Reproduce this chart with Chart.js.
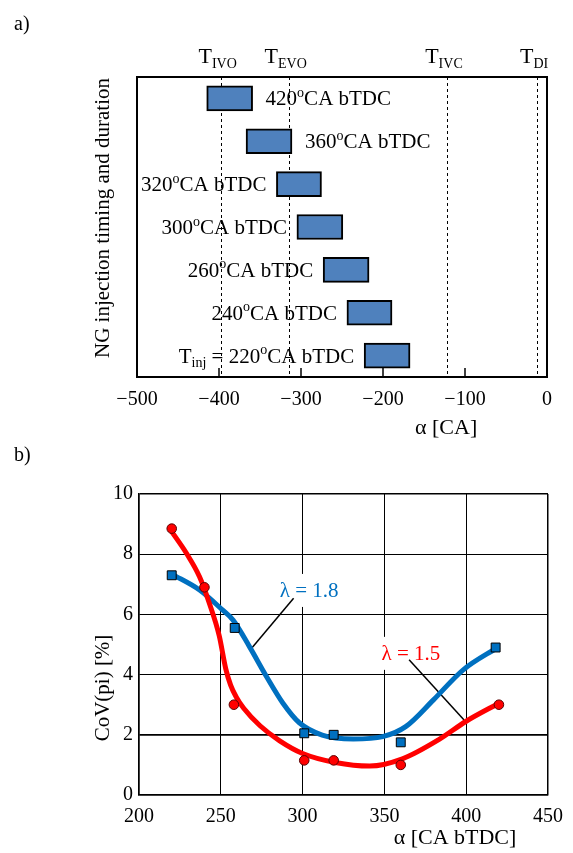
<!DOCTYPE html>
<html>
<head>
<meta charset="utf-8">
<script src="https://cdn.jsdelivr.net/npm/chart.js@4.4.1/dist/chart.umd.min.js"></script>
<style>
  html, body { margin: 0; padding: 0; background: #fff; }
  #wrapA { position: absolute; left: 0; top: 0; width: 573px; height: 440px; }
  #wrapB { position: absolute; left: 0; top: 440px; width: 573px; height: 413px; }
</style>
</head>
<body>
<div id="wrapA"><canvas id="timingChart"></canvas></div>
<div id="wrapB"><canvas id="covChart"></canvas></div>
<script>
const serif = '"Liberation Serif", "Times New Roman", serif';

/* a) injection timing and duration */
const injTiming = [420, 360, 320, 300, 260, 240, 220];          // CA bTDC
const injStart = [-415, -367, -330, -305, -273, -244, -223];     // CA
const injEnd = [-359, -311, -275, -249, -217, -189, -167];       // CA
const valveEvents = ["IVO", "EVO", "IVC", "DI"];
const valveAngles = [-398, -315, -122, -12];
const ticksA = [-500, -400, -300, -200, -100, 0];

/* b) CoV(pi) vs injection timing (marker positions as plotted) */
const anglesRich = [220, 240, 258, 301, 319, 360, 420];
const covRich = [8.85, 6.9, 3.0, 1.15, 1.15, 1.0, 3.0];
const anglesLean = [220, 258.5, 301, 319, 360, 418];
const covLean = [7.3, 5.55, 2.05, 2.0, 1.75, 4.9];
// fitted curves
const fitRichX = [220, 229, 237, 243, 249, 253, 256, 259.5, 264, 274, 286, 300, 320, 341, 361, 383, 400, 420];
const fitRichY = [8.75, 8.03, 7.25, 6.37, 5.3, 4.2, 3.65, 3.25, 2.88, 2.3, 1.8, 1.38, 1.08, 0.96, 1.2, 1.83, 2.45, 3.05];
const fitLeanX = [220, 237, 251, 257.5, 267.5, 278, 288, 298, 312, 331, 349, 363, 380, 398, 420];
const fitLeanY = [7.34, 6.81, 6.15, 5.81, 4.93, 3.93, 3.05, 2.4, 1.99, 1.86, 1.94, 2.27, 3.16, 4.15, 4.93];
const lambdaRich = "1.5";
const lambdaLean = "1.8";

const red = "#ff0000";
const blue = "#0070c0";

// text with sub/superscripts: parts = [[text, ""|"sub"|"sup"], ...]
function drawRich(ctx, parts, x, y, align, size, color) {
  const small = Math.round(size * 0.65);
  let w = 0;
  parts.forEach(([t, k]) => {
    ctx.font = (k ? small : size) + "px " + serif;
    w += ctx.measureText(t).width;
  });
  let cx = align === "center" ? x - w / 2 : align === "right" ? x - w : x;
  ctx.textAlign = "left";
  ctx.textBaseline = "alphabetic";
  ctx.fillStyle = color || "#000";
  parts.forEach(([t, k]) => {
    ctx.font = (k ? small : size) + "px " + serif;
    const dy = k === "sub" ? size * 0.22 : k === "sup" ? -size * 0.4 : 0;
    ctx.fillText(t, cx, y + dy);
    cx += ctx.measureText(t).width;
  });
  return w;
}

const timingDecor = {
  id: "timingDecor",
  beforeDatasetsDraw(chart) {
    const { ctx, chartArea: a, scales: { x } } = chart;
    ctx.save();
    ctx.strokeStyle = "#000";
    ctx.lineWidth = 1;
    ctx.setLineDash([3, 3]);
    valveAngles.forEach(v => {
      const px = Math.round(x.getPixelForValue(v)) + 0.5;
      ctx.beginPath();
      ctx.moveTo(px, a.top);
      ctx.lineTo(px, a.bottom);
      ctx.stroke();
    });
    ctx.restore();
  },
  afterDraw(chart) {
    const { ctx, chartArea: a, scales: { x, y } } = chart;
    ctx.save();
    // frame
    ctx.strokeStyle = "#000";
    ctx.lineWidth = 2;
    ctx.strokeRect(a.left, a.top, a.right - a.left, a.bottom - a.top);
    // inward tick marks
    ctx.lineWidth = 1.5;
    ticksA.forEach(v => {
      const px = x.getPixelForValue(v);
      ctx.beginPath();
      ctx.moveTo(px, a.bottom);
      ctx.lineTo(px, a.bottom - 9);
      ctx.stroke();
    });
    // valve event labels
    valveEvents.forEach((name, i) => {
      drawRich(ctx, [["T", ""], [name, "sub"]], x.getPixelForValue(valveAngles[i]) - 3, 63, "center", 22);
    });
    // bar labels
    injTiming.forEach((t, i) => {
      const py = y.getPixelForValue(i) + 7;
      const parts = [[String(t), ""], ["o", "sup"], ["CA bTDC", ""]];
      if (i === injTiming.length - 1) parts.unshift(["T", ""], ["inj", "sub"], [" = ", ""]);
      if (i < 2) drawRich(ctx, parts, x.getPixelForValue(injEnd[i]) + 13, py, "left", 21);
      else drawRich(ctx, parts, x.getPixelForValue(injStart[i]) - 10, py, "right", 21);
    });
    // axis titles
    drawRich(ctx, [["\u03b1 [CA]", ""]], a.left + (a.right - a.left) * 0.754, 434, "center", 22);
    ctx.translate(103, 218);
    ctx.rotate(-Math.PI / 2);
    ctx.font = "21px " + serif;
    ctx.textAlign = "center";
    ctx.textBaseline = "middle";
    ctx.fillText("NG injection timing and duration", 0, 0);
    ctx.restore();
    ctx.save();
    drawRich(ctx, [["a)", ""]], 14, 30, "left", 20);
    ctx.restore();
  }
};

new Chart(document.getElementById("timingChart"), {
  type: "bar",
  data: {
    labels: injTiming.map(String),
    datasets: [{
      data: injStart.map((s, i) => [s, injEnd[i]]),
      backgroundColor: "#4f81bd",
      borderColor: "#000",
      borderWidth: 2,
      borderSkipped: false,
      barThickness: 25
    }]
  },
  options: {
    indexAxis: "y",
    responsive: true,
    maintainAspectRatio: false,
    animation: false,
    layout: { padding: { top: 77, right: 26, left: 0, bottom: 0 } },
    plugins: { legend: { display: false }, tooltip: { enabled: false } },
    scales: {
      x: {
        min: -500,
        max: 0,
        afterBuildTicks: s => { s.ticks = ticksA.map(v => ({ value: v })); },
        grid: { display: false, drawTicks: false },
        border: { display: false },
        ticks: {
          padding: 11,
          color: "#000",
          font: { family: serif, size: 20 },
          callback: v => (v < 0 ? "\u2212" + (-v) : String(v))
        },
        afterFit: s => { s.height = 63; }
      },
      y: {
        grid: { display: false, drawTicks: false },
        border: { display: false },
        ticks: { display: false },
        afterFit: s => { s.width = 137; }
      }
    }
  },
  plugins: [timingDecor]
});

const covDecor = {
  id: "covDecor",
  beforeDatasetsDraw(chart) {
    const { ctx, scales: { x, y } } = chart;
    ctx.save();
    const notes = [
      { text: lambdaLean, color: blue, at: [304, 6.58], from: [294.5, 6.54], to: [268.7, 4.87] },
      { text: lambdaRich, color: red, at: [366.2, 4.49], from: [365.1, 4.49], to: [398.7, 2.49] }
    ];
    notes.forEach(n => {
      const px = x.getPixelForValue(n.at[0]);
      const py = y.getPixelForValue(n.at[1]);
      ctx.font = "21px " + serif;
      const w = ctx.measureText("\u03bb = " + n.text).width;
      ctx.fillStyle = "#fff";
      ctx.fillRect(px - w / 2 - 4, py - 23, w + 8, 33);
      ctx.strokeStyle = "#000";
      ctx.lineWidth = 1.5;
      ctx.beginPath();
      ctx.moveTo(x.getPixelForValue(n.from[0]), y.getPixelForValue(n.from[1]));
      ctx.lineTo(x.getPixelForValue(n.to[0]), y.getPixelForValue(n.to[1]));
      ctx.stroke();
      drawRich(ctx, [["\u03bb = " + n.text, ""]], px, py, "center", 21, n.color);
    });
    ctx.restore();
  },
  afterDraw(chart) {
    const { ctx } = chart;
    ctx.save();
    drawRich(ctx, [["\u03b1 [CA bTDC]", ""]], 455, 404, "center", 22);
    drawRich(ctx, [["b)", ""]], 14, 21, "left", 20);
    ctx.translate(103, 248);
    ctx.rotate(-Math.PI / 2);
    ctx.font = "21px " + serif;
    ctx.textAlign = "center";
    ctx.textBaseline = "middle";
    ctx.fillStyle = "#000";
    ctx.fillText("CoV(pi) [%]", 0, 0);
    ctx.restore();
  }
};

const edgeWidth = (c, lo, hi) => {
  const v = c.tick.value;
  if (v === lo || v === hi) return 1.5;
  return 1;
};

new Chart(document.getElementById("covChart"), {
  type: "scatter",
  data: {
    datasets: [
      {
        label: "rich markers",
        data: anglesRich.map((a, i) => ({ x: a, y: covRich[i] })),
        pointStyle: "circle",
        pointRadius: 4.8,
        backgroundColor: red,
        borderColor: "#5a0000",
        borderWidth: 1
      },
      {
        label: "lean markers",
        data: anglesLean.map((a, i) => ({ x: a, y: covLean[i] })),
        pointStyle: "rect",
        pointRadius: 6.3,
        backgroundColor: blue,
        borderColor: "#000",
        borderWidth: 1
      },
      {
        label: "rich fit",
        data: fitRichX.map((a, i) => ({ x: a, y: fitRichY[i] })),
        showLine: true,
        pointRadius: 0,
        borderColor: red,
        borderWidth: 5,
        cubicInterpolationMode: "monotone"
      },
      {
        label: "lean fit",
        data: fitLeanX.map((a, i) => ({ x: a, y: fitLeanY[i] })),
        showLine: true,
        pointRadius: 0,
        borderColor: blue,
        borderWidth: 5,
        cubicInterpolationMode: "monotone"
      }
    ]
  },
  options: {
    responsive: true,
    maintainAspectRatio: false,
    animation: false,
    layout: { padding: { top: 54, right: 24, left: 0, bottom: 0 } },
    plugins: { legend: { display: false }, tooltip: { enabled: false } },
    scales: {
      x: {
        type: "linear",
        min: 200,
        max: 450,
        ticks: { stepSize: 50, padding: 10, color: "#000", font: { family: serif, size: 20 } },
        grid: { color: "#000", lineWidth: c => edgeWidth(c, 200, 450), drawTicks: false },
        border: { color: "#000", width: 1.5 },
        afterFit: s => { s.height = 58; }
      },
      y: {
        min: 0,
        max: 10,
        ticks: { stepSize: 2, padding: 6, color: "#000", font: { family: serif, size: 20 } },
        grid: {
          color: "#000",
          lineWidth: c => (c.tick.value === 2 ? 1.8 : edgeWidth(c, 0, 10)),
          drawTicks: false
        },
        border: { color: "#000", width: 1.5 },
        afterFit: s => { s.width = 139; }
      }
    }
  },
  plugins: [covDecor]
});
</script>
</body>
</html>
